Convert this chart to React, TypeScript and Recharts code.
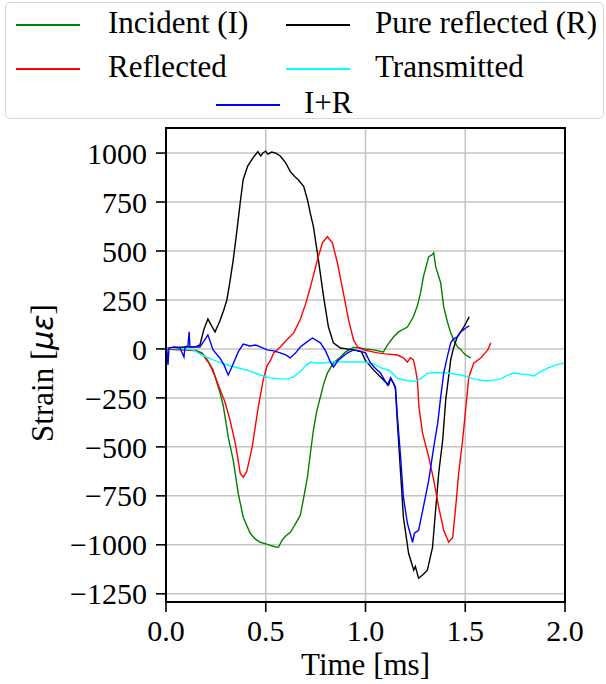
import { CartesianGrid, Label, Line, LineChart, ReferenceLine, XAxis, YAxis } from "recharts";

// time in ms, strain in microstrain
const incidentT = [0, 0.05, 0.1, 0.15, 0.18, 0.2, 0.236, 0.26, 0.27, 0.287, 0.312, 0.337, 0.362, 0.387, 0.422, 0.447, 0.472, 0.5, 0.523, 0.545, 0.563, 0.583, 0.6, 0.623, 0.645, 0.673, 0.69, 0.709, 0.724, 0.739, 0.755, 0.774, 0.79, 0.809, 0.839, 0.874, 0.9, 0.94, 0.97, 1.0, 1.04, 1.09, 1.11, 1.14, 1.166, 1.21, 1.24, 1.26, 1.276, 1.29, 1.317, 1.333, 1.342, 1.352, 1.377, 1.392, 1.41, 1.427, 1.445, 1.462, 1.475, 1.487, 1.5, 1.528];
const incidentV = [0, -3, -5, -8, -20, -45, -107, -190, -220, -290, -450, -568, -737, -859, -941, -970, -987, -995, -1003, -1010, -1013, -975, -955, -936, -900, -850, -760, -655, -530, -414, -320, -245, -180, -123, -72, -41, -15, 8, 5, 0, -5, -15, 20, 61, 87, 112, 164, 220, 286, 368, 471, 480, 491, 419, 337, 215, 140, 82, 40, 10, 0, -15, -30, -46];

const pureT = [0, 0.05, 0.1, 0.15, 0.17, 0.19, 0.21, 0.23, 0.246, 0.26, 0.27, 0.29, 0.305, 0.32, 0.337, 0.355, 0.372, 0.387, 0.41, 0.437, 0.46, 0.475, 0.487, 0.5, 0.51, 0.53, 0.55, 0.573, 0.6, 0.623, 0.645, 0.663, 0.69, 0.709, 0.724, 0.739, 0.764, 0.79, 0.814, 0.839, 0.874, 0.94, 0.98, 1.0, 1.04, 1.09, 1.116, 1.126, 1.14, 1.15, 1.16, 1.176, 1.19, 1.216, 1.242, 1.25, 1.266, 1.29, 1.31, 1.336, 1.35, 1.367, 1.387, 1.402, 1.427, 1.44, 1.46, 1.49, 1.52];
const pureV = [5, 8, 10, 12, 20, 100, 153, 115, 87, 120, 143, 200, 250, 340, 455, 600, 747, 865, 935, 977, 1007, 985, 1002, 1010, 995, 1005, 1000, 985, 950, 905, 880, 864, 830, 762, 690, 624, 455, 266, 113, 31, 5, -5, -15, -60, -107, -159, -184, -150, -175, -200, -379, -634, -859, -1043, -1130, -1110, -1171, -1150, -1130, -1013, -839, -634, -465, -261, -56, 0, 62, 107, 164];

const reflectedT = [0, 0.05, 0.1, 0.15, 0.186, 0.22, 0.25, 0.27, 0.295, 0.32, 0.345, 0.357, 0.372, 0.387, 0.405, 0.432, 0.447, 0.462, 0.487, 0.507, 0.523, 0.54, 0.573, 0.6, 0.64, 0.673, 0.7, 0.724, 0.759, 0.784, 0.809, 0.834, 0.859, 0.889, 0.915, 0.94, 0.96, 0.99, 1.06, 1.1, 1.16, 1.19, 1.21, 1.225, 1.24, 1.25, 1.26, 1.268, 1.286, 1.317, 1.342, 1.367, 1.392, 1.417, 1.437, 1.452, 1.467, 1.487, 1.503, 1.518, 1.543, 1.578, 1.613, 1.628];
const reflectedV = [0, -3, -5, -10, -31, -80, -150, -205, -270, -360, -470, -540, -634, -655, -625, -501, -400, -300, -159, -85, -60, -20, 10, 40, 82, 150, 230, 317, 455, 542, 573, 542, 440, 286, 148, 46, 10, -5, -20, -25, -31, -45, -67, -45, -56, -100, -159, -297, -430, -552, -670, -808, -926, -987, -962, -808, -634, -465, -297, -143, -72, -46, -5, 31];

const transmittedT = [0, 0.1, 0.136, 0.18, 0.236, 0.306, 0.372, 0.42, 0.472, 0.523, 0.573, 0.608, 0.64, 0.673, 0.7, 0.724, 0.75, 0.79, 0.839, 0.91, 0.99, 1.04, 1.075, 1.12, 1.16, 1.2, 1.25, 1.28, 1.31, 1.35, 1.41, 1.477, 1.543, 1.58, 1.613, 1.65, 1.678, 1.71, 1.744, 1.78, 1.81, 1.844, 1.88, 1.915, 1.96, 2.0];
const transmittedV = [5, 0, -5, -31, -56, -82, -100, -112, -133, -148, -153, -153, -143, -115, -85, -67, -72, -72, -65, -67, -67, -75, -95, -110, -150, -160, -165, -150, -125, -120, -123, -133, -153, -160, -164, -158, -153, -135, -123, -128, -130, -138, -115, -97, -80, -72];

const sumT = [0, 0.005, 0.01, 0.015, 0.04, 0.07, 0.09, 0.095, 0.11, 0.116, 0.12, 0.15, 0.17, 0.19, 0.21, 0.236, 0.27, 0.29, 0.312, 0.33, 0.362, 0.387, 0.42, 0.45, 0.472, 0.507, 0.54, 0.573, 0.6, 0.623, 0.65, 0.673, 0.705, 0.734, 0.774, 0.8, 0.824, 0.84, 0.86, 0.885, 0.91, 0.94, 0.97, 1.0, 1.025, 1.05, 1.075, 1.11, 1.126, 1.15, 1.16, 1.176, 1.19, 1.21, 1.236, 1.245, 1.266, 1.29, 1.317, 1.342, 1.362, 1.377, 1.392, 1.41, 1.427, 1.44, 1.46, 1.477, 1.503, 1.52];
const sumV = [5, -10, -82, 5, 10, 5, -41, 10, 15, 87, 10, 10, 10, 40, 72, -5, -46, -80, -133, -92, -15, 25, 15, 20, 10, -5, -10, -20, -30, -46, -20, 10, 35, 56, 31, -10, -67, -92, -62, -40, -20, -5, -10, -20, -72, -100, -123, -184, -148, -194, -348, -552, -757, -890, -987, -941, -926, -808, -670, -501, -379, -245, -123, -41, 31, 50, 60, 87, 107, 118];

const xTicks = [0, 0.5, 1, 1.5, 2];
const yTicks = [-1250, -1000, -750, -500, -250, 0, 250, 500, 750, 1000];
const xDomain = [0, 2];
const yDomain = [-1292, 1128];

const zip = (t: number[], v: number[]) => t.map((x, i) => ({ t: x, v: v[i] }));

const series = [
  { name: "Incident (I)", color: "#008000", data: zip(incidentT, incidentV) },
  { name: "Pure reflected (R)", color: "#000000", data: zip(pureT, pureV) },
  { name: "Reflected", color: "#ff0000", data: zip(reflectedT, reflectedV) },
  { name: "Transmitted", color: "#00ffff", data: zip(transmittedT, transmittedV) },
  { name: "I+R", color: "#0000ff", data: zip(sumT, sumV) },
];

const FONT = "Liberation Serif, Times New Roman, serif";
const MARGIN = { top: 128, right: 41, left: 0, bottom: 0 };
const Y_AXIS_W = 166;
const X_AXIS_H = 82;
const W = 606;
const H = 684;

// legend slots: [line left, line y, text left]
const legendSlots = [
  [15, 24, 107],
  [285, 24, 374],
  [15, 68, 107],
  [285, 68, 374],
  [215, 104, 303],
];

function ChartLegend() {
  return (
    <div
      style={{
        position: "absolute",
        left: 5,
        top: 2,
        width: 597,
        height: 115,
        border: "1px solid #d8d8d8",
        borderRadius: 5,
        background: "rgba(255,255,255,0.8)",
        zIndex: 2,
      }}
    >
      {series.map((s, i) => {
        const [lx, ly, tx] = legendSlots[i];
        return (
          <div key={s.name}>
            <div
              style={{
                position: "absolute",
                left: lx - 5,
                top: ly - 3,
                width: 64,
                height: 1.5,
                background: s.color,
              }}
            />
            <div
              style={{
                position: "absolute",
                left: tx - 5,
                top: ly - 22,
                fontFamily: FONT,
                fontSize: 31,
                lineHeight: "36px",
                color: "#000",
                whiteSpace: "nowrap",
              }}
            >
              {s.name}
            </div>
          </div>
        );
      })}
    </div>
  );
}

const fmtY = (v: number) => (v < 0 ? "\u2212" + Math.abs(v) : String(v));

export default function App() {
  const plotLeft = MARGIN.left + Y_AXIS_W;
  const plotTop = MARGIN.top;
  const plotW = W - MARGIN.right - plotLeft;
  const plotH = H - X_AXIS_H - plotTop;
  return (
    <div style={{ position: "absolute", left: 0, top: 0, width: W, height: H, background: "#fff" }}>
      <ChartLegend />
      <LineChart width={W} height={H} margin={MARGIN}>
        <CartesianGrid stroke="#c4c4c4" strokeWidth={1.5} />
        <XAxis
          type="number"
          dataKey="t"
          domain={xDomain}
          ticks={xTicks}
          allowDataOverflow
          height={X_AXIS_H}
          tickFormatter={(v: number) => v.toFixed(1)}
          tick={{ fill: "#000", fontSize: 30, fontFamily: FONT }}
          tickSize={10}
          tickMargin={8}
          tickLine={{ stroke: "#000", strokeWidth: 1.6 }}
          axisLine={{ stroke: "#000", strokeWidth: 1.5 }}
        >
          <Label
            content={({ viewBox }: any) => (
              <text
                x={viewBox.x + viewBox.width / 2}
                y={viewBox.y + 73}
                textAnchor="middle"
                fontFamily={FONT}
                fontSize={31}
                fill="#000"
              >
                Time [ms]
              </text>
            )}
          />
        </XAxis>
        <YAxis
          type="number"
          domain={yDomain}
          ticks={yTicks}
          allowDataOverflow
          width={Y_AXIS_W}
          tickFormatter={fmtY}
          tick={{ fill: "#000", fontSize: 30, fontFamily: FONT }}
          tickSize={10}
          tickMargin={9}
          tickLine={{ stroke: "#000", strokeWidth: 1.6 }}
          axisLine={{ stroke: "#000", strokeWidth: 1.5 }}
        >
          <Label
            content={({ viewBox }: any) => {
              const cx = viewBox.x + 42;
              const cy = viewBox.y + viewBox.height / 2 + 8;
              return (
                <text
                  x={cx}
                  y={cy}
                  transform={`rotate(-90 ${cx} ${cy})`}
                  textAnchor="middle"
                  dominantBaseline="central"
                  fontFamily={FONT}
                  fontSize={31}
                  fill="#000"
                >
                  Strain [
                  <tspan fontFamily="DejaVu Sans" fontStyle="italic" fontSize={30}>
                    με
                  </tspan>
                  ]
                </text>
              );
            }}
          />
        </YAxis>
        {series.map((s) => (
          <Line
            key={s.name}
            data={s.data}
            dataKey="v"
            name={s.name}
            type="linear"
            stroke={s.color}
            strokeWidth={1.4}
            dot={false}
            activeDot={false}
            isAnimationActive={false}
          />
        ))}
        {/* top and right spines */}
        <ReferenceLine
          segment={[
            { x: xDomain[0], y: yDomain[1] },
            { x: xDomain[1], y: yDomain[1] },
          ]}
          stroke="#000"
          strokeWidth={1.5}
          ifOverflow="visible"
        />
        <ReferenceLine
          segment={[
            { x: xDomain[1], y: yDomain[0] },
            { x: xDomain[1], y: yDomain[1] },
          ]}
          stroke="#000"
          strokeWidth={1.5}
          ifOverflow="visible"
        />
      </LineChart>
      <div
        style={{
          position: "absolute",
          left: plotLeft - 1,
          top: plotTop - 1,
          width: plotW + 2,
          height: plotH + 2,
          boxSizing: "border-box",
          border: "2px solid #000",
          pointerEvents: "none",
          zIndex: 5,
        }}
      />
    </div>
  );
}
